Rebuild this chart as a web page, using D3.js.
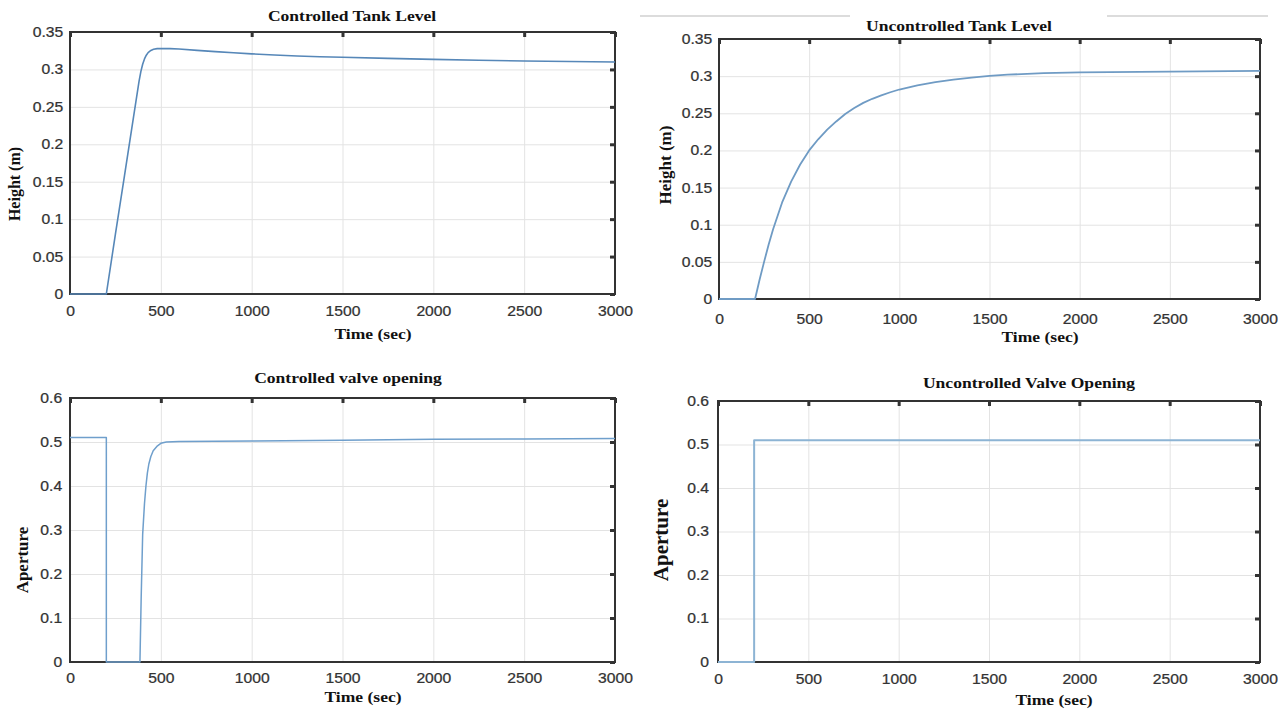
<!DOCTYPE html>
<html lang="en">
  <head>
    <meta charset="utf-8">
    <title>Tank level and valve opening</title>
    <script src="https://d3js.org/d3.v7.min.js"></script>
    <style type="text/css">
        body {
          margin: 0;
          background: #fff;
        }
        .tick text {
          font-family: "Liberation Sans", Arial, sans-serif;
          font-size: 14px;
          fill: #333;
          stroke: #333;
          stroke-width: 0.25px;
        }
        .grid line {
          stroke: #e3e3e3;
          stroke-width: 1;
        }
        .grid path {
          display: none;
        }
        .label {
          font-family: "Liberation Serif", "Times New Roman", serif;
          font-weight: bold;
          fill: #111;
        }
    </style>
  </head>
  <body>
    <div id="chart"></div>
    <script>
        // values
        var xTicks = [0, 500, 1000, 1500, 2000, 2500, 3000];
        var levelTicks = [0, 0.05, 0.1, 0.15, 0.2, 0.25, 0.3, 0.35];
        var apertureTicks = [0, 0.1, 0.2, 0.3, 0.4, 0.5, 0.6];

        var ctrlLevelT = [0, 200, 250, 300, 350, 380, 390, 400, 410, 420, 430, 445, 460, 480, 500, 550, 600, 700, 800, 900, 1000, 1125, 1250, 1375, 1500, 1750, 2000, 2250, 2500, 2750, 3000];
        var ctrlLevelH = [0, 0, 0.08, 0.158, 0.237, 0.284, 0.297, 0.307, 0.314, 0.319, 0.3225, 0.3253, 0.327, 0.3278, 0.328, 0.3278, 0.3272, 0.3255, 0.3238, 0.3222, 0.3208, 0.3193, 0.318, 0.317, 0.3162, 0.3148, 0.3134, 0.3122, 0.3113, 0.3106, 0.31];

        var openLevelT = [0, 200, 225, 250, 275, 300, 350, 400, 450, 500, 550, 600, 650, 700, 750, 800, 850, 900, 950, 1000, 1100, 1200, 1300, 1400, 1500, 1600, 1800, 2000, 2500, 3000];
        var openLevelH = [0, 0, 0.026, 0.05, 0.073, 0.094, 0.13, 0.158, 0.181, 0.2, 0.215, 0.228, 0.239, 0.249, 0.257, 0.264, 0.2695, 0.274, 0.2783, 0.282, 0.2875, 0.292, 0.2953, 0.298, 0.3003, 0.302, 0.304, 0.305, 0.306, 0.307];

        var ctrlValveT = [0, 200, 200, 385, 392, 400, 410, 418, 426, 434, 445, 458, 478, 500, 530, 600, 1000, 1500, 2000, 2500, 3000];
        var ctrlValveA = [0.51, 0.51, 0, 0, 0.15, 0.29, 0.36, 0.4, 0.43, 0.45, 0.467, 0.48, 0.49, 0.497, 0.5, 0.501, 0.502, 0.504, 0.506, 0.507, 0.508];

        var openValveT = [0, 200, 200, 3000];
        var openValveA = [0, 0, 0.51, 0.51];

        var svg = d3.select("#chart").append("svg")
            .attr("width", 1279)
            .attr("height", 711);

        // light rule above the top right plot
        svg.append("line").attr("x1", 640).attr("x2", 850).attr("y1", 16).attr("y2", 16)
            .attr("stroke", "#dcdcdc").attr("stroke-width", 2);
        svg.append("line").attr("x1", 1107).attr("x2", 1268).attr("y1", 16).attr("y2", 16)
            .attr("stroke", "#dcdcdc").attr("stroke-width", 2);

        function label(txt, x, y, size, sx, rot) {
          svg.append("text")
              .attr("class", "label")
              .attr("text-anchor", "middle")
              .style("font-size", size + "px")
              .attr("transform", "translate(" + x + "," + y + ")" + (rot ? " rotate(-90)" : "") + " scale(" + sx + ",1)")
              .text(txt);
        }

        function panel(p) {
          var x = d3.scaleLinear().domain([0, 3000]).range([p.left, p.right]);
          var y = d3.scaleLinear().domain([0, p.ymax]).range([p.bottom, p.top]);
          var h = p.bottom - p.top, w = p.right - p.left;

          svg.append("g").attr("class", "grid")
              .attr("transform", "translate(0," + p.bottom + ")")
              .call(d3.axisBottom(x).tickValues(xTicks).tickSize(-h).tickFormat(""));
          svg.append("g").attr("class", "grid")
              .attr("transform", "translate(" + p.left + ",0)")
              .call(d3.axisLeft(y).tickValues(p.yTicks).tickSize(-w).tickFormat(""));

          // frame
          svg.append("rect")
              .attr("x", p.left).attr("y", p.top)
              .attr("width", w).attr("height", h)
              .attr("fill", "none").attr("stroke", "#333").attr("stroke-width", 2);

          // inward ticks on top and right
          svg.append("g").attr("transform", "translate(0," + p.top + ")")
              .call(d3.axisBottom(x).tickValues(xTicks).tickSize(5).tickFormat(""))
              .call(function(g) { g.select(".domain").remove(); g.selectAll("line").attr("stroke", "#333").attr("stroke-width", 3); });
          svg.append("g").attr("transform", "translate(" + p.right + ",0)")
              .call(d3.axisLeft(y).tickValues(p.yTicks).tickSize(5).tickFormat(""))
              .call(function(g) { g.select(".domain").remove(); g.selectAll("line").attr("stroke", "#333").attr("stroke-width", 3); });

          var line = d3.line()
              .x(function(d) { return x(d[0]); })
              .y(function(d) { return y(d[1]); })
              .curve(d3.curveLinear);

          svg.append("path")
              .datum(d3.zip(p.t, p.v))
              .attr("fill", "none")
              .attr("stroke", p.color)
              .attr("stroke-width", p.lw)
              .attr("stroke-linejoin", "round")
              .attr("d", line);

          // tick labels
          svg.append("g").attr("transform", "translate(0," + p.bottom + ")")
              .call(d3.axisBottom(x).tickValues(xTicks).tickSize(0).tickPadding(p.xPad).tickFormat(d3.format("d")))
              .call(function(g) { g.select(".domain").remove(); g.selectAll("text").attr("transform", "scale(1.12,1)"); });
          svg.append("g").attr("transform", "translate(" + p.left + ",0)")
              .call(d3.axisLeft(y).tickValues(p.yTicks).tickSize(0).tickPadding(p.yPad).tickFormat(function(d) { return d3.format("")(+d.toFixed(2)); }))
              .call(function(g) { g.select(".domain").remove(); g.selectAll("text").attr("transform", "scale(1.12,1)"); });

          label(p.title, p.titleX, p.titleY, 15, 1.17, false);
          label("Time (sec)", p.xlabX, p.xlabY, 15, 1.17, false);
          label(p.ylab, p.ylabX, p.ylabY, p.ylabSize, 1, true);
        }

        panel({left: 70, right: 615, top: 32, bottom: 294, ymax: 0.35, yTicks: levelTicks,
               t: ctrlLevelT, v: ctrlLevelH, color: "#5687b8", lw: 1.6,
               xPad: 12, yPad: 6, title: "Controlled Tank Level", titleX: 352, titleY: 21,
               xlabX: 373, xlabY: 339, ylab: "Height (m)", ylabX: 20, ylabY: 184, ylabSize: 16});

        panel({left: 719, right: 1260, top: 39, bottom: 299, ymax: 0.35, yTicks: levelTicks,
               t: openLevelT, v: openLevelH, color: "#6f9bc4", lw: 1.8,
               xPad: 15, yPad: 6, title: "Uncontrolled Tank Level", titleX: 959, titleY: 31,
               xlabX: 1040, xlabY: 342, ylab: "Height (m)", ylabX: 671, ylabY: 165, ylabSize: 17});

        panel({left: 70, right: 615, top: 398, bottom: 662, ymax: 0.6, yTicks: apertureTicks,
               t: ctrlValveT, v: ctrlValveA, color: "#6f9fcc", lw: 1.5,
               xPad: 11, yPad: 7, title: "Controlled valve opening", titleX: 348, titleY: 383,
               xlabX: 363, xlabY: 702, ylab: "Aperture", ylabX: 28, ylabY: 560, ylabSize: 17});

        panel({left: 718, right: 1260, top: 401, bottom: 662, ymax: 0.6, yTicks: apertureTicks,
               t: openValveT, v: openValveA, color: "#8db4d4", lw: 2,
               xPad: 12, yPad: 8, title: "Uncontrolled Valve Opening", titleX: 1029, titleY: 388,
               xlabX: 1054, xlabY: 705, ylab: "Aperture", ylabX: 668, ylabY: 540, ylabSize: 21});

    </script>
  </body>
</html>
